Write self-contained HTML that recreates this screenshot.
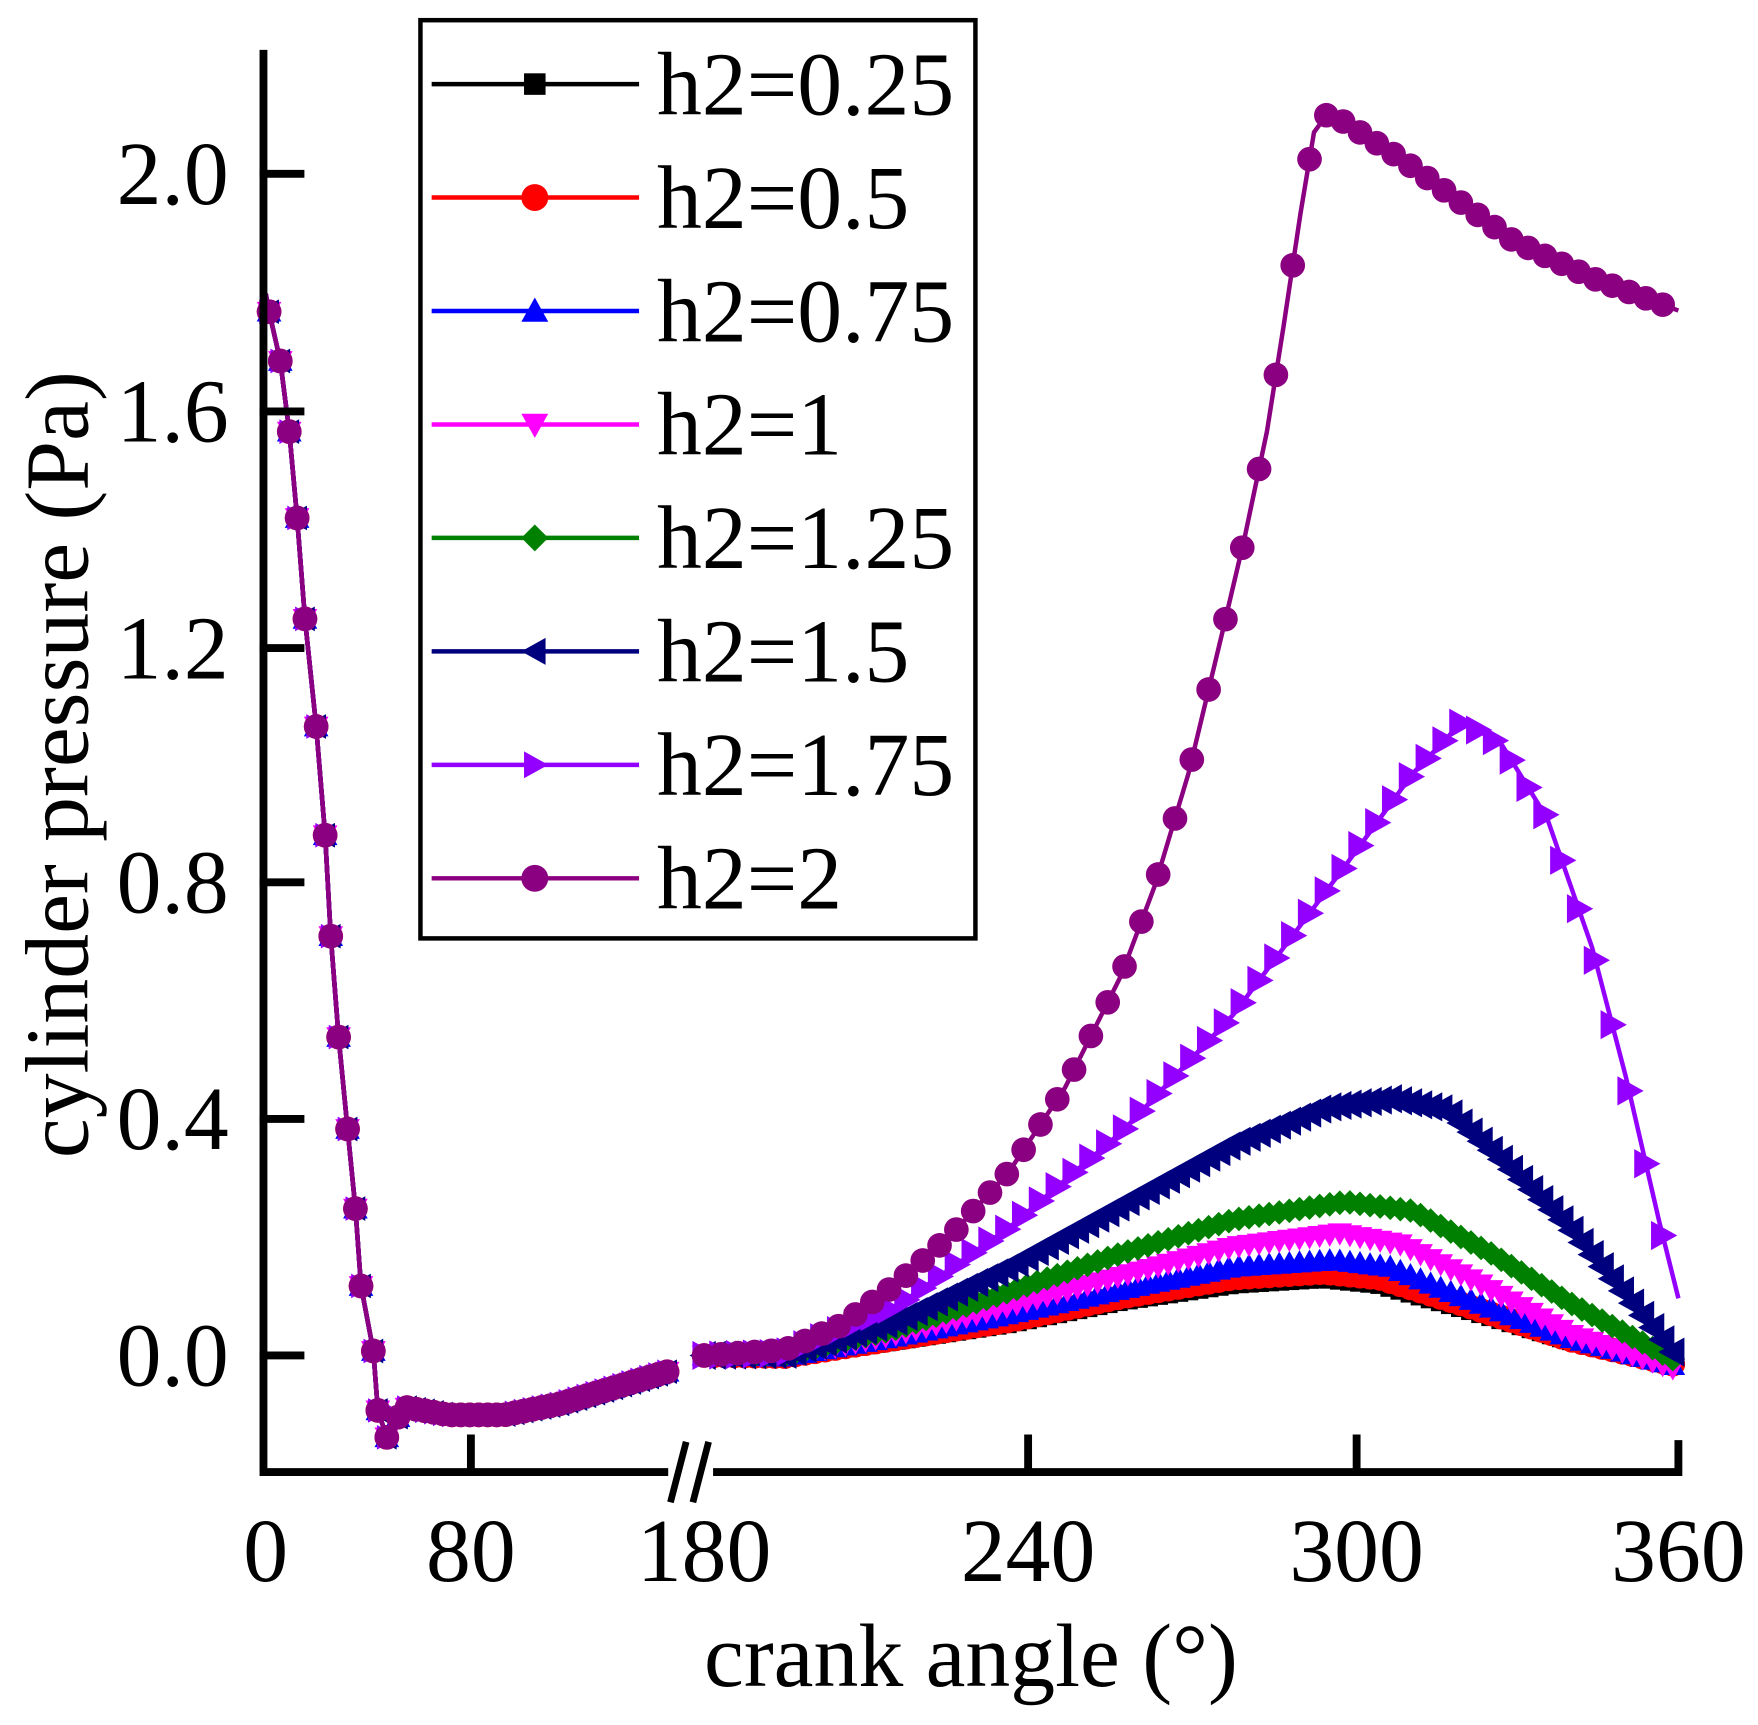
<!DOCTYPE html>
<html><head><meta charset="utf-8"><style>
html,body{margin:0;padding:0;background:#fff;}
svg{display:block;}
text{font-family:"Liberation Serif",serif;fill:#000;}
</style></head><body>
<svg id="s" width="1758" height="1725" viewBox="0 0 1568 1538.6" preserveAspectRatio="none" xmlns="http://www.w3.org/2000/svg">
<g id="data"></g>
<g stroke="#000" stroke-width="7" fill="none" stroke-linecap="square">
<path d="M235 48 V1313 H1497 V1288"/>
<path d="M235 155 H268 M235 367 H268 M235 578 H268 M235 787 H268 M235 998 H268 M235 1209 H268"/>
<path d="M420 1313 V1283 M917 1313 V1283 M1210 1313 V1283"/>
</g>
<rect x="596" y="1290" width="40" height="50" fill="#fff"/>
<g stroke="#000" stroke-width="6"><path d="M598 1340 L612 1286 M618 1340 L632 1286"/></g>
<g font-size="80" text-anchor="end">
<text x="204" y="182">2.0</text><text x="204" y="394">1.6</text><text x="204" y="605">1.2</text>
<text x="204" y="814">0.8</text><text x="204" y="1025">0.4</text><text x="204" y="1236">0.0</text>
</g>
<g font-size="80" text-anchor="middle">
<text x="237" y="1410">0</text><text x="420" y="1410">80</text><text x="628" y="1410">180</text>
<text x="917" y="1410">240</text><text x="1210" y="1410">300</text><text x="1497" y="1410">360</text>
<text x="866" y="1504">crank angle (°)</text>
<text transform="translate(78,682) rotate(-90)">cylinder pressure (Pa)</text>
</g>
<rect x="375" y="18" width="495" height="819" fill="#fff" stroke="#000" stroke-width="4"/>
<g id="leg"></g>
</svg>
<script>
const NS="http://www.w3.org/2000/svg";
const S=[
["h2=0.25","#000","sq",[[628,1209],[700,1210],[800,1195],[900,1180],[1000,1160],[1100,1145],[1180,1140],[1230,1145],[1300,1165],[1400,1195],[1497,1218]]],
["h2=0.5","#f00","ci",[[628,1209],[700,1210],[800,1194],[900,1178],[1000,1157],[1100,1140],[1180,1135],[1230,1140],[1300,1162],[1400,1195],[1497,1218]]],
["h2=0.75","#00f","tu",[[628,1209],[700,1210],[800,1192],[900,1172],[1000,1150],[1100,1130],[1190,1124],[1240,1130],[1300,1155],[1400,1193],[1497,1219]]],
["h2=1","#f0f","td",[[628,1209],[700,1210],[800,1190],[900,1165],[1000,1138],[1100,1112],[1195,1100],[1250,1110],[1320,1145],[1400,1190],[1497,1222]]],
["h2=1.25","#008000","di",[[628,1209],[700,1209],[800,1185],[900,1152],[1000,1118],[1100,1088],[1200,1072],[1260,1080],[1330,1118],[1400,1162],[1497,1215]]],
["h2=1.5","#00007f","tl",[[628,1209],[700,1208],[800,1178],[900,1130],[1000,1075],[1100,1020],[1180,988],[1240,980],[1290,990],[1340,1035],[1400,1095],[1450,1155],[1497,1212]]],
["h2=1.75","#9400ff","tr",[[628,1209],[700,1207],[800,1165],[900,1095],[1000,1010],[1100,905],[1200,772],[1260,690],[1305,643],[1340,665],[1380,730],[1420,845],[1450,960],[1480,1090],[1497,1158]]],
["h2=2","#8b0080","ci",[[628,1209],[700,1204],[750,1182],[800,1145],[850,1100],[900,1045],[950,970],[1000,870],[1030,790],[1060,690],[1090,565],[1110,480],[1130,385],[1145,290],[1160,190],[1172,118],[1185,100],[1250,142],[1350,215],[1420,248],[1497,277]]]
];
const seg1=[[237,262],[240,278],[250,322],[258,385],[265,462],[272,552],[282,648],[290,745],[295,835],[302,925],[310,1007],[317,1078],[322,1147],[333,1205],[337,1258],[345,1282],[360,1255],[400,1262],[450,1262],[500,1252],[550,1237],[600,1222]];
function interp(p,x){for(let i=0;i<p.length-1;i++){if(x>=p[i][0]&&x<=p[i+1][0]){const t=(x-p[i][0])/(p[i+1][0]-p[i][0]||1);return p[i][1]+t*(p[i+1][1]-p[i][1]);}}return p[p.length-1][1];}
function mk(g,type,c,x,y,r){let e;
 if(type=="sq"){e=document.createElementNS(NS,"rect");e.setAttribute("x",x-r*.8);e.setAttribute("y",y-r*.8);e.setAttribute("width",r*1.6);e.setAttribute("height",r*1.6);}
 else if(type=="ci"){e=document.createElementNS(NS,"circle");e.setAttribute("cx",x);e.setAttribute("cy",y);e.setAttribute("r",r);}
 else{let pts;
  if(type=="tu")pts=[[0,-r],[r,r*.8],[-r,r*.8]];
  if(type=="td")pts=[[0,r],[r,-r*.8],[-r,-r*.8]];
  if(type=="tl")pts=[[-r,0],[r*.8,-r],[r*.8,r]];
  if(type=="tr")pts=[[r,0],[-r*.8,-r],[-r*.8,r]];
  if(type=="di")pts=[[0,-r],[r,0],[0,r],[-r,0]];
  e=document.createElementNS(NS,"polygon");e.setAttribute("points",pts.map(p=>(x+p[0])+","+(y+p[1])).join(" "));}
 e.setAttribute("fill",c);g.appendChild(e);}
function pl(g,pts,c,w){const e=document.createElementNS(NS,"polyline");e.setAttribute("points",pts.map(p=>p.join(",")).join(" "));e.setAttribute("fill","none");e.setAttribute("stroke",c);e.setAttribute("stroke-width",w);g.appendChild(e);}
const g=document.getElementById("data");
S.forEach(s=>{
 pl(g,seg1,s[1],4);pl(g,s[3],s[1],4);
 seg1.slice(1,16).forEach(p=>mk(g,s[2],s[1],p[0],p[1],11));
 for(let x=355;x<=600;x+=8)mk(g,s[2],s[1],x,interp(seg1,x),11);
 const step=s[0]=="h2=2"?15:(s[0]=="h2=1.75"?15:9);
 const r=(s[0]=="h2=1.75"||s[0]=="h2=1.5")?13:11;
 for(let x=628;x<=1497;x+=step)mk(g,s[2],s[1],x,interp(s[3],x),r);
});
const lg=document.getElementById("leg");
S.forEach((s,i)=>{const y=75+i*101.2;pl(lg,[[385,y],[570,y]],s[1],4);mk(lg,s[2],s[1],477,y,12);
 const t=document.createElementNS(NS,"text");t.setAttribute("x",586);t.setAttribute("y",y+27);t.setAttribute("font-size","80");t.textContent=s[0];lg.appendChild(t);});
</script>
</body></html>
